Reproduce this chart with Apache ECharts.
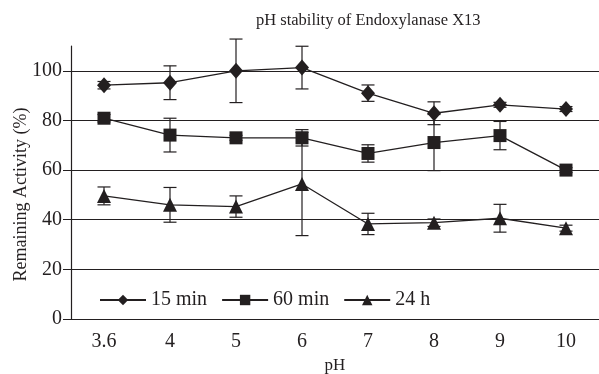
<!DOCTYPE html>
<html><head><meta charset="utf-8">
<script src="https://cdn.jsdelivr.net/npm/echarts@6/dist/echarts.min.js"></script>
<style>html,body{margin:0;padding:0;background:#fff}#c{width:599px;height:374px}</style>
</head><body><div id="c"></div>
<script>
const categories = ['3.6','4','5','6','7','8','9','10'];
const min15 = [94.2, 95.2, 100.0, 101.3, 91.0, 82.9, 86.3, 84.6];
const min15Err = [1.5, 6.8, 12.8, 8.6, 3.3, 4.6, 1.0, 1.0];
const min60 = [80.9, 74.1, 73.0, 73.0, 66.7, 71.1, 73.9, 60.0];
const min60Err = [1.5, 6.8, 1.0, 3.3, 3.5, 11.3, 5.7, 1.0];
const h24 = [49.6, 46.0, 45.3, 54.4, 38.3, 38.8, 40.6, 36.6];
const h24Err = [3.6, 7.0, 4.3, 20.8, 4.3, 1.5, 5.6, 1.2];
const gridValues = [20, 40, 60, 80, 100];
const yTicks = [0, 20, 40, 60, 80, 100];

const ink = '#231f20';
const font = '"Liberation Serif", "DejaVu Serif", serif';

function errData(vals, errs) {
  return vals.map((v, i) => [i, v - errs[i], v + errs[i]]);
}
function errSeries(vals, errs) {
  return {
    type: 'custom', z: 3, silent: true,
    data: errData(vals, errs),
    renderItem: function (params, api) {
      const lo = api.coord([api.value(0), api.value(1)]);
      const hi = api.coord([api.value(0), api.value(2)]);
      const w = 6.5;
      const st = { stroke: ink, lineWidth: 1.2 };
      return { type: 'group', children: [
        { type: 'line', shape: { x1: lo[0], y1: lo[1], x2: hi[0], y2: hi[1] }, style: st },
        { type: 'line', shape: { x1: lo[0]-w, y1: lo[1], x2: lo[0]+w, y2: lo[1] }, style: st },
        { type: 'line', shape: { x1: hi[0]-w, y1: hi[1], x2: hi[0]+w, y2: hi[1] }, style: st }
      ]};
    }
  };
}
function lineSeries(name, vals, symbol, size) {
  return {
    name: name, type: 'line', data: vals, symbol: symbol, symbolSize: size,
    z: 4, itemStyle: { color: ink }, lineStyle: { color: ink, width: 1.3 },
    showAllSymbol: true
  };
}

const chart = echarts.init(document.getElementById('c'));
const s15 = lineSeries('15 min', min15, 'diamond', [14, 16]);
s15.markLine = {
  silent: true, symbol: 'none', label: { show: false }, z: 1,
  lineStyle: { color: ink, type: 'solid', width: 1.2 },
  data: gridValues.map(v => ({ yAxis: v }))
};
chart.setOption({
  animation: false,
  title: {
    text: 'pH stability of Endoxylanase X13', left: 251, top: 7,
    textStyle: { fontFamily: font, fontSize: 16.5, fontWeight: 'normal', color: ink }
  },
  legend: {
    left: 94, top: 285, itemWidth: 46, itemHeight: 13, itemGap: 14,
    data: ['15 min', '60 min', '24 h'],
    textStyle: { fontFamily: font, fontSize: 20, color: ink }
  },
  grid: { left: 71, right: 0, top: 46, bottom: 55, containLabel: false, outerBoundsMode: 'none' },
  xAxis: {
    type: 'category', data: categories, boundaryGap: true,
    name: 'pH', nameLocation: 'middle', nameGap: 35,
    nameTextStyle: { fontFamily: font, fontSize: 17, color: ink },
    axisLine: { lineStyle: { color: ink, width: 1.2 } },
    axisTick: { alignWithLabel: false, length: 6, lineStyle: { color: ink } },
    axisLabel: { fontFamily: font, fontSize: 20, color: ink, margin: 13 },
    splitLine: { show: false }
  },
  yAxis: {
    type: 'value', min: 0, max: 110,
    name: 'Remaining Activity (%)', nameLocation: 'middle', nameGap: 41,
    nameMoveOverlap: false,
    nameTextStyle: { fontFamily: font, fontSize: 18, color: ink, padding: [0, 24, 0, 0] },
    axisLine: { show: true, lineStyle: { color: ink, width: 1.2 } },
    axisTick: { show: true, length: 8, customValues: yTicks, lineStyle: { color: ink } },
    axisLabel: { fontFamily: font, fontSize: 20, color: ink, margin: 9, customValues: yTicks },
    splitLine: { show: false }
  },
  series: [
    s15,
    lineSeries('60 min', min60, 'rect', 13),
    lineSeries('24 h', h24, 'triangle', 14),
    errSeries(min15, min15Err),
    errSeries(min60, min60Err),
    errSeries(h24, h24Err)
  ]
});
</script></body></html>
